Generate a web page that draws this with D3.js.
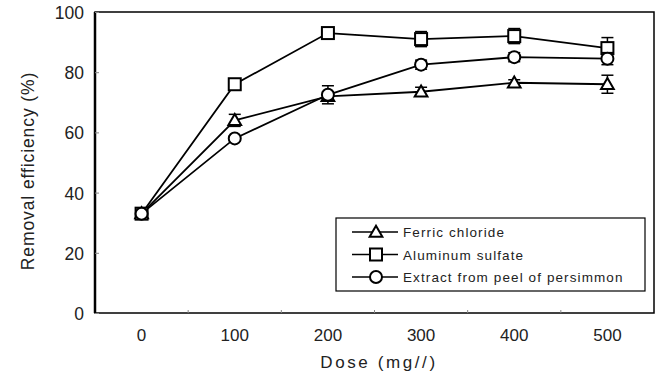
<!DOCTYPE html>
<html>
<head>
<meta charset="utf-8">
<script src="https://cdn.jsdelivr.net/npm/d3@7"></script>
<style>
  body { margin: 0; background: #fff; }
  svg { display: block; font-family: "Liberation Sans", Arial, sans-serif; }
</style>
</head>
<body>
<svg id="svg" width="660" height="383"></svg>
<script>
const doses = ["0", "100", "200", "300", "400", "500"];
const yTicks = [0, 20, 40, 60, 80, 100];

const ferric = [33, 64, 72, 73.5, 76.5, 76];
const ferricErr = [0.5, 2, 1.5, 1.5, 1, 3];
const alum = [33, 76, 93, 91, 92, 88];
const alumErr = [0.5, 1, 0.8, 2.5, 2.5, 3.5];
const persimmon = [33, 58, 72.5, 82.5, 85, 84.5];
const persimmonErr = [0.5, 0.8, 3, 1.5, 1.5, 2];

const seriesNames = ["Ferric chloride", "Aluminum sulfate", "Extract from peel of persimmon"];

const series = [
  { name: seriesNames[0], values: ferric, err: ferricErr, shape: "triangle" },
  { name: seriesNames[1], values: alum, err: alumErr, shape: "square" },
  { name: seriesNames[2], values: persimmon, err: persimmonErr, shape: "circle" }
];

const svg = d3.select("#svg");
const plotL = 95, plotR = 654, plotT = 12, plotB = 313;

const x = d3.scaleBand().domain(doses).range([plotL, plotR]).padding(0);
const y = d3.scaleLinear().domain([0, 100]).range([plotB, plotT]);
const cx = d => x(d) + x.bandwidth() / 2;

// frame
svg.append("rect")
  .attr("x", plotL).attr("y", plotT)
  .attr("width", plotR - plotL).attr("height", plotB - plotT)
  .attr("fill", "none").attr("stroke", "#000").attr("stroke-width", 1.5);
svg.append("line")
  .attr("x1", plotL).attr("x2", plotL).attr("y1", plotT).attr("y2", plotB)
  .attr("stroke", "#000").attr("stroke-width", 2.5);

// y axis (ticks inside)
const yAxis = svg.append("g")
  .attr("transform", "translate(" + plotL + ",0)")
  .call(d3.axisRight(y).tickValues(yTicks).tickSize(4).tickFormat(""));
yAxis.select(".domain").remove();
yAxis.selectAll("line").attr("stroke", "#888");

svg.selectAll(".ylab")
  .data(yTicks)
  .enter().append("text")
  .attr("x", 84)
  .attr("y", d => y(d) + 7)
  .attr("text-anchor", "end")
  .attr("font-size", 17.5)
  .attr("fill", "#222")
  .text(d => d);

// x axis: ticks between categories, labels under points
const bounds = doses.slice(1).map(d => x(d));
svg.selectAll(".xtick")
  .data(bounds)
  .enter().append("line")
  .attr("x1", d => d).attr("x2", d => d)
  .attr("y1", plotB).attr("y2", plotB - 3)
  .attr("stroke", "#888");

const xAxis = svg.append("g")
  .attr("transform", "translate(0," + plotB + ")")
  .call(d3.axisBottom(x).tickSize(0).tickPadding(14));
xAxis.select(".domain").remove();
xAxis.selectAll("text")
  .attr("font-size", 17)
  .attr("fill", "#222")
  .attr("font-family", "Liberation Sans, Arial, sans-serif")
  .attr("dy", "0.85em");

// axis titles
svg.append("text")
  .attr("x", 379).attr("y", 368)
  .attr("text-anchor", "middle")
  .attr("font-size", 17)
  .attr("letter-spacing", 2.6)
  .attr("fill", "#222")
  .text("Dose (mg//)");

svg.append("text")
  .attr("transform", "translate(34,171) rotate(-90)")
  .attr("text-anchor", "middle")
  .attr("font-size", 17.5)
  .attr("letter-spacing", 0.9)
  .attr("fill", "#222")
  .text("Removal efficiency (%)");

function drawMarker(g, shape, px, py) {
  if (shape === "square") {
    g.append("rect")
      .attr("x", px - 6).attr("y", py - 6).attr("width", 12).attr("height", 12)
      .attr("fill", "#fff").attr("stroke", "#000").attr("stroke-width", 2);
  } else if (shape === "circle") {
    g.append("circle")
      .attr("cx", px).attr("cy", py).attr("r", 6)
      .attr("fill", "#fff").attr("stroke", "#000").attr("stroke-width", 2);
  } else {
    g.append("path")
      .attr("d", d3.symbol().type(d3.symbolTriangle).size(70)())
      .attr("transform", "translate(" + px + "," + (py + 1) + ")")
      .attr("fill", "#fff").attr("stroke", "#000").attr("stroke-width", 2);
  }
}

const line = d3.line().x(d => cx(d[0])).y(d => y(d[1]));

// lines
series.forEach(s => {
  svg.append("path")
    .datum(doses.map((d, i) => [d, s.values[i]]))
    .attr("fill", "none")
    .attr("stroke", "#000")
    .attr("stroke-width", 1.8)
    .attr("d", line);
});

// error bars and markers
series.forEach(s => {
  const g = svg.append("g");
  doses.forEach((d, i) => {
    const px = cx(d);
    const hi = y(s.values[i] + s.err[i]);
    const lo = y(s.values[i] - s.err[i]);
    g.append("line").attr("x1", px).attr("x2", px).attr("y1", hi).attr("y2", lo)
      .attr("stroke", "#000").attr("stroke-width", 1.5);
    [hi, lo].forEach(v => {
      g.append("line").attr("x1", px - 6).attr("x2", px + 6).attr("y1", v).attr("y2", v)
        .attr("stroke", "#000").attr("stroke-width", 1.5);
    });
    drawMarker(g, s.shape, px, y(s.values[i]));
  });
});

// legend
const legend = svg.append("g");
legend.append("rect")
  .attr("x", 336).attr("y", 218).attr("width", 309).attr("height", 73)
  .attr("fill", "#fff").attr("stroke", "#000").attr("stroke-width", 1.2);

const legendY = d3.scalePoint().domain(seriesNames).range([232, 277]);
series.forEach(s => {
  const ly = legendY(s.name);
  legend.append("line")
    .attr("x1", 352).attr("x2", 398).attr("y1", ly).attr("y2", ly)
    .attr("stroke", "#000").attr("stroke-width", 1.5);
  drawMarker(legend, s.shape, 376, ly);
  legend.append("text")
    .attr("x", 403).attr("y", ly + 5)
    .attr("font-size", 13.5)
    .attr("letter-spacing", 1.1)
    .attr("fill", "#222")
    .text(s.name);
});
</script>
</body>
</html>
